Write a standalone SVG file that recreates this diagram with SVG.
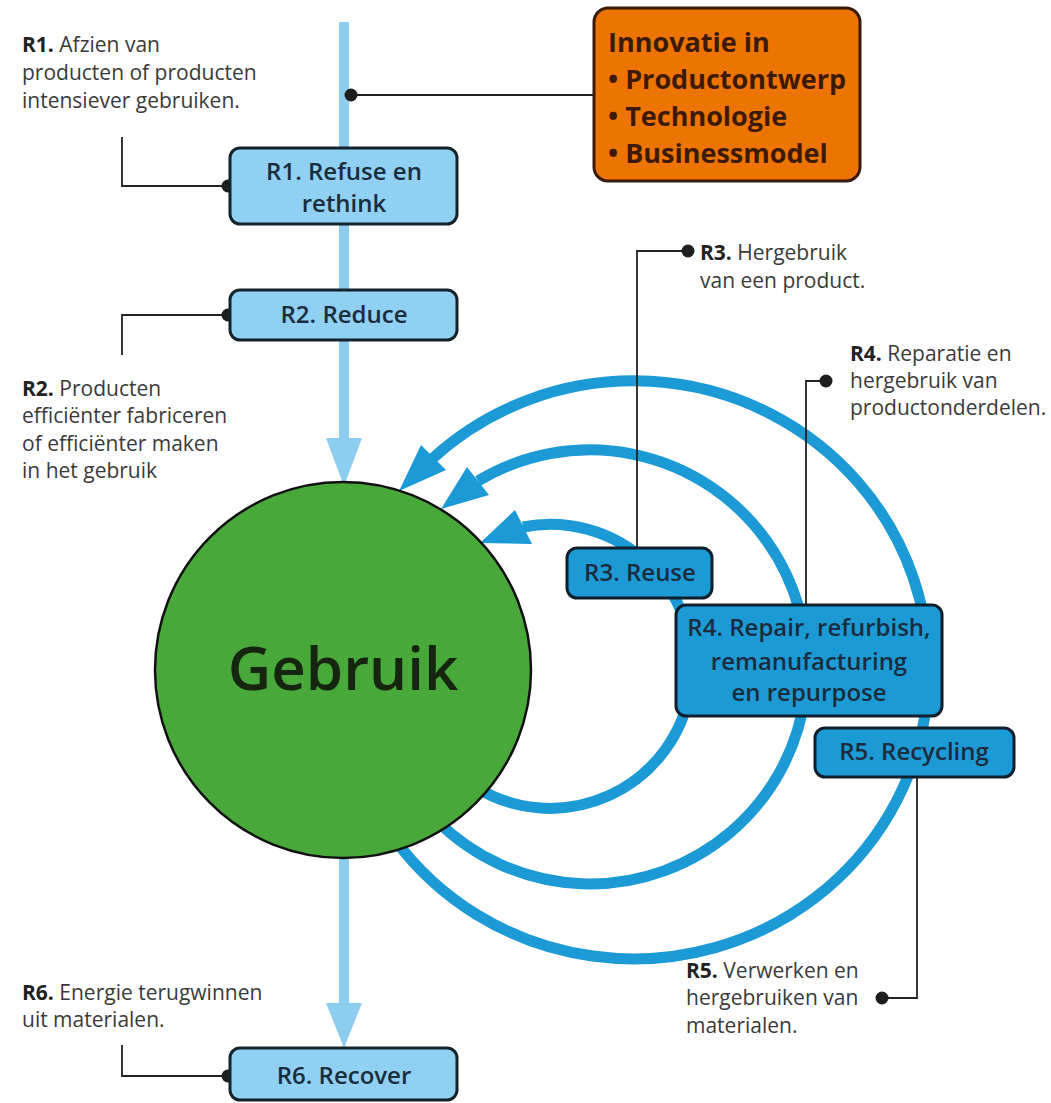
<svg xmlns="http://www.w3.org/2000/svg" width="1051" height="1103" viewBox="0 0 1051 1103">
<style>
.bg{fill:#ffffff}
.shaft{stroke:#8ccdf0;stroke-width:10;fill:none}
.shead{fill:#8ccdf0}
.arc{stroke:#1b9ad6;stroke-width:11;fill:none}
.ahead{fill:#1b9ad6}
.lead{stroke:#222;stroke-width:1.8;fill:none}
.dot{fill:#1e1e1e}
.lbox{fill:#8fd0f3;stroke:#14222c;stroke-width:3}
.dbox{fill:#1b9ad6;stroke:#0f1f2b;stroke-width:3}
.obox{fill:#ee7402;stroke:#3a1a08;stroke-width:3}
.bt{font-family:"Open Sans","Noto Sans","Liberation Sans",sans-serif;font-weight:600;font-size:24px;fill:#1b2d3c;text-anchor:middle}
.ot{font-family:"Open Sans","Noto Sans","Liberation Sans",sans-serif;font-weight:700;font-size:27px;fill:#3d1a05}
.an{font-family:"Open Sans","Noto Sans","Liberation Sans",sans-serif;font-size:21px;fill:#3a3a3a}
.an tspan.b{font-weight:700;fill:#222}
.big{font-family:"Open Sans","Noto Sans","Liberation Sans",sans-serif;font-weight:600;font-size:60px;fill:#15250f;text-anchor:middle}
</style>
<rect class="bg" x="0" y="0" width="1051" height="1103"/>

<g id="connectors">
  <line class="shaft" x1="344" y1="22" x2="344" y2="440"/>
  <polygon class="shead" points="326,438 362,438 344,486"/>
  <line class="shaft" x1="344" y1="850" x2="344" y2="1005"/>
  <polygon class="shead" points="326,1003 362,1003 344,1048"/>

  <path class="arc" d="M394.4,838.9 A295,289 0 1 0 433,458"/>
  <polygon class="ahead" points="399,491 421,445 446,470"/>
  <path class="arc" d="M437.3,821.1 A217,217 0 1 0 478,481"/>
  <polygon class="ahead" points="441,509 467,467 489,495"/>
  <path class="arc" d="M477,788 A142,142 0 1 0 523,527"/>
  <polygon class="ahead" points="480,543 515,510 532,544"/>

  <polyline class="lead" points="594,95 351,95"/>
  <circle class="dot" cx="351" cy="95" r="6.5"/>
  <polyline class="lead" points="228,186 122,186 122,137"/>
  <circle class="dot" cx="228" cy="186" r="6.5"/>
  <polyline class="lead" points="228,315 122,315 122,355"/>
  <circle class="dot" cx="228" cy="315" r="6.5"/>
  <polyline class="lead" points="688,251 637,251 637,548"/>
  <circle class="dot" cx="688" cy="251" r="6.5"/>
  <polyline class="lead" points="826,381 806,381 806,605"/>
  <circle class="dot" cx="826" cy="381" r="6.5"/>
  <polyline class="lead" points="917,777 917,998 882,998"/>
  <circle class="dot" cx="882" cy="998" r="6.5"/>
  <polyline class="lead" points="228,1076 122,1076 122,1045"/>
  <circle class="dot" cx="228" cy="1076" r="6.5"/>
</g>

<g id="gebruik">
  <circle cx="343" cy="670" r="188" fill="#48a83a" stroke="#111" stroke-width="2.5"/>
  <text class="big" x="343" y="690">Gebruik</text>
</g>

<g id="innovatie">
  <rect class="obox" x="594" y="8" width="266" height="173" rx="14"/>
  <text class="ot" x="608" y="52">Innovatie in</text>
  <text class="ot" x="608" y="89">• Productontwerp</text>
  <text class="ot" x="608" y="126">• Technologie</text>
  <text class="ot" x="608" y="163">• Businessmodel</text>
</g>

<g id="r1">
  <rect class="lbox" x="230" y="148" width="227" height="76" rx="10"/>
  <text class="bt" x="344" y="180">R1. Refuse en</text>
  <text class="bt" x="344" y="212">rethink</text>
</g>
<g id="r2">
  <rect class="lbox" x="230" y="290" width="227" height="50" rx="10"/>
  <text class="bt" x="344" y="323">R2. Reduce</text>
</g>
<g id="r3">
  <rect class="dbox" x="567" y="548" width="145" height="50" rx="10"/>
  <text class="bt" x="640" y="581">R3. Reuse</text>
</g>
<g id="r4">
  <rect class="dbox" x="676" y="605" width="266" height="111" rx="10"/>
  <text class="bt" x="809" y="636">R4. Repair, refurbish,</text>
  <text class="bt" x="809" y="670">remanufacturing</text>
  <text class="bt" x="809" y="701">en repurpose</text>
</g>
<g id="r5">
  <rect class="dbox" x="815" y="728" width="199" height="49" rx="10"/>
  <text class="bt" x="914" y="760">R5. Recycling</text>
</g>
<g id="r6">
  <rect class="lbox" x="230" y="1048" width="227" height="52" rx="10"/>
  <text class="bt" x="344" y="1084">R6. Recover</text>
</g>

<g id="annotation-r1">
  <text class="an" x="22" y="52"><tspan class="b">R1.</tspan> Afzien van</text>
  <text class="an" x="22" y="80">producten of producten</text>
  <text class="an" x="22" y="108">intensiever gebruiken.</text>
</g>
<g id="annotation-r2">
  <text class="an" x="22" y="396"><tspan class="b">R2.</tspan> Producten</text>
  <text class="an" x="22" y="423">efficiënter fabriceren</text>
  <text class="an" x="22" y="451">of efficiënter maken</text>
  <text class="an" x="22" y="478">in het gebruik</text>
</g>
<g id="annotation-r3">
  <text class="an" x="700" y="260"><tspan class="b">R3.</tspan> Hergebruik</text>
  <text class="an" x="700" y="288">van een product.</text>
</g>
<g id="annotation-r4">
  <text class="an" x="850" y="361"><tspan class="b">R4.</tspan> Reparatie en</text>
  <text class="an" x="850" y="388">hergebruik van</text>
  <text class="an" x="850" y="415">productonderdelen.</text>
</g>
<g id="annotation-r5">
  <text class="an" x="686" y="978"><tspan class="b">R5.</tspan> Verwerken en</text>
  <text class="an" x="686" y="1005">hergebruiken van</text>
  <text class="an" x="686" y="1033">materialen.</text>
</g>
<g id="annotation-r6">
  <text class="an" x="22" y="1000"><tspan class="b">R6.</tspan> Energie terugwinnen</text>
  <text class="an" x="22" y="1027">uit materialen.</text>
</g>
</svg>
